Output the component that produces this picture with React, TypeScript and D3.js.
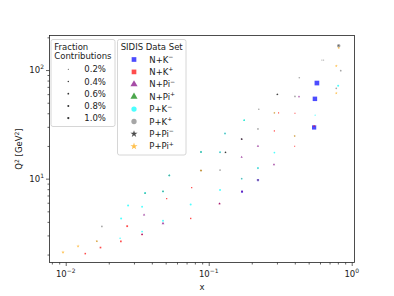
import React, { useEffect, useRef } from "react";
import * as d3 from "d3";

// SIDIS kinematic bins (x, Q^2) and fraction contribution (%) per data set
const nkmX = [0.553, 0.571, 0.546, 0.221, 0.171];
const nkmQ2 = [54.3, 75.9, 29.6, 9.7, 7.59];
const nkmFrac = [5, 5.5, 4.5, 1.2, 1.0];

const nkpX = [0.0137, 0.0175, 0.0243, 0.0269, 0.0342, 0.0508, 0.0748, 0.076, 0.288, 0.308, 0.401, 0.399, 0.546, 0.119];
const nkpQ2 = [2.04, 2.32, 2.64, 3.65, 3.06, 6.54, 4.3, 8.26, 27.5, 40.3, 40.0, 19.9, 30.5, 5.88];
const nkpFrac = [0.6, 0.7, 0.7, 0.8, 0.6, 0.4, 0.5, 0.4, 0.4, 0.3, 0.3, 0.3, 0.5, 0.4];

const npimX = [0.0353, 0.0479, 0.119, 0.17, 0.17, 0.221, 0.286, 0.428, 0.0342, 0.171];
const npimQ2 = [4.65, 3.87, 5.88, 15.8, 23.1, 19.9, 13.5, 56.8, 3.06, 7.59];
const npimFrac = [0.6, 0.8, 0.6, 0.5, 0.4, 0.6, 0.6, 0.5, 0.5, 0.6];

const npipX = [0.0359, 0.0479, 0.053, 0.0883, 0.177];
const npipQ2 = [7.36, 7.63, 10.7, 17.6, 34.5];
const npipFrac = [0.4, 0.4, 0.4, 0.4, 0.3];

const pkmX = [0.024, 0.0244, 0.0273, 0.0342, 0.0342, 0.0479, 0.0748, 0.12, 0.17, 0.288, 0.804, 0.0359, 0.0479, 0.053, 0.0883, 0.12, 0.13, 0.177, 0.221, 0.555];
const pkmQ2 = [2.83, 4.3, 5.67, 3.26, 5.51, 4.09, 5.79, 7.85, 10.0, 17.4, 71.6, 7.36, 7.63, 10.7, 17.6, 17.5, 26.0, 34.5, 12.5, 38.4];
const pkmFrac = [0.5, 0.8, 0.8, 0.6, 0.7, 0.7, 0.8, 0.8, 0.6, 0.6, 0.8, 0.8, 0.8, 0.8, 0.8, 0.8, 0.8, 0.6, 0.8, 0.3];

const pkpX = [0.0165, 0.0179, 0.131, 0.12, 0.17, 0.221, 0.224, 0.302, 0.401, 0.43, 0.619, 0.838, 0.78, 0.811, 0.0359, 0.0479, 0.053, 0.0883, 0.12, 0.13, 0.221, 0.288, 0.399, 0.17, 0.636];
const pkpQ2 = [2.65, 3.63, 17.5, 12.0, 23.1, 28.7, 43.6, 59.7, 57.2, 84.9, 123.7, 98.6, 67.8, 167.6, 7.36, 7.63, 10.7, 17.6, 17.5, 26.0, 12.5, 40.3, 24.7, 10.0, 123.7];
const pkpFrac = [0.5, 0.6, 0.6, 0.6, 0.6, 0.6, 0.5, 0.6, 0.6, 0.5, 0.3, 0.6, 0.6, 2.5, 0.4, 0.4, 0.4, 0.4, 0.4, 0.4, 0.4, 0.4, 0.4, 0.4, 0.3];

const ppimX = [0.131, 0.17, 0.302, 0.0883, 0.811];
const ppimQ2 = [17.5, 23.1, 59.7, 11.9, 167.6];
const ppimFrac = [0.4, 0.4, 0.4, 0.4, 0.2];

const ppipX = [0.00957, 0.0122, 0.0165, 0.0883, 0.288, 0.399, 0.78, 0.78, 0.811, 0.221];
const ppipQ2 = [2.1, 2.39, 2.65, 11.9, 40.3, 24.7, 108.8, 61.3, 160.0, 9.7];
const ppipFrac = [0.8, 0.8, 0.5, 0.6, 0.4, 0.4, 0.6, 0.6, 0.6, 0.4];

const setLabels = [
	["N+K", "\u2212"],
	["N+K", "+"],
	["N+Pi", "\u2212"],
	["N+Pi", "+"],
	["P+K", "\u2212"],
	["P+K", "+"],
	["P+Pi", "\u2212"],
	["P+Pi", "+"],
];
const setColors = ["#0000ff", "#ff0000", "#800080", "#008000", "#00ffff", "#808080", "#000000", "#ffa500"];
const setShapes = [d3.symbolSquare, d3.symbolSquare, d3.symbolTriangle, d3.symbolTriangle, d3.symbolCircle, d3.symbolCircle, d3.symbolStar, d3.symbolStar];

const fracLevels = [0.2, 0.4, 0.6, 0.8, 1.0];
const fracLabels = ["0.2%", "0.4%", "0.6%", "0.8%", "1.0%"];

const xMajor = [0.01, 0.1, 1];
const xMajorExp = ["\u22122", "\u22121", "0"];
const yMajor = [10, 100];
const yMajorExp = ["1", "2"];

const W = 394;
const H = 296;
const FONT = "DejaVu Sans, sans-serif";

const App: React.FC = () => {
	const svgRef = useRef<SVGSVGElement | null>(null);

	useEffect(() => {
		const svg = d3.select(svgRef.current);
		svg.selectAll("*").remove();

		const sets = [
			[nkmX, nkmQ2, nkmFrac],
			[nkpX, nkpQ2, nkpFrac],
			[npimX, npimQ2, npimFrac],
			[npipX, npipQ2, npipFrac],
			[pkmX, pkmQ2, pkmFrac],
			[pkpX, pkpQ2, pkpFrac],
			[ppimX, ppimQ2, ppimFrac],
			[ppipX, ppipQ2, ppipFrac],
		];

		const left = 49.5, right = 354.5, top = 35.5, bottom = 262.5;
		const x = d3.scaleLog().domain([0.0077, 1.046]).range([left, right]);
		const y = d3.scaleLog().domain([1.69, 208]).range([bottom, top]);
		// marker area (px^2) per percent contribution
		const area = (f: number) => 4 * f;

		svg.append("rect").attr("width", W).attr("height", H).attr("fill", "white");

		// points
		const pts = svg.append("g");
		sets.forEach((s, i) => {
			const [xs, qs, fs] = s;
			pts.selectAll(null)
				.data(xs.map((v, j) => ({ x: v, q: qs[j], f: fs[j] })))
				.enter()
				.append("path")
				.attr("transform", (d: any) => `translate(${x(d.x)},${y(d.q)})`)
				.attr("d", (d: any) => d3.symbol().type(setShapes[i]).size(area(d.f))())
				.attr("fill", setColors[i])
				.attr("fill-opacity", 0.7);
		});

		// frame
		svg.append("rect")
			.attr("x", left).attr("y", top)
			.attr("width", right - left).attr("height", bottom - top)
			.attr("fill", "none").attr("stroke", "#222").attr("stroke-width", 0.8);

		// x axis ticks
		const xMinor: number[] = [];
		for (let e = -3; e <= 0; e++)
			for (let k = 2; k <= 9; k++) {
				const v = k * Math.pow(10, e);
				if (v >= 0.0077 && v <= 1.046) xMinor.push(v);
			}
		const gx = svg.append("g").attr("transform", `translate(0,${bottom})`);
		gx.call(d3.axisBottom(x).tickValues(xMajor).tickSize(3.5).tickFormat(() => ""));
		gx.append("g").call(d3.axisBottom(x).tickValues(xMinor).tickSize(2).tickFormat(() => ""));
		gx.selectAll(".domain").remove();
		gx.selectAll("line").attr("stroke", "#222").attr("stroke-width", 0.7);

		xMajor.forEach((v, i) => {
			const t = svg.append("text")
				.attr("x", x(v)).attr("y", 277)
				.attr("text-anchor", "middle")
				.style("font-family", FONT).style("font-size", "8.5px").attr("fill", "#222");
			t.append("tspan").text("10");
			t.append("tspan").attr("dy", -4).style("font-size", "6px").text(xMajorExp[i]);
		});

		// y axis ticks
		const yMinor: number[] = [];
		for (let e = 0; e <= 2; e++)
			for (let k = 2; k <= 9; k++) {
				const v = k * Math.pow(10, e);
				if (v >= 1.69 && v <= 208) yMinor.push(v);
			}
		const gy = svg.append("g").attr("transform", `translate(${left},0)`);
		gy.call(d3.axisLeft(y).tickValues(yMajor).tickSize(3.5).tickFormat(() => ""));
		gy.append("g").call(d3.axisLeft(y).tickValues(yMinor).tickSize(2).tickFormat(() => ""));
		gy.selectAll(".domain").remove();
		gy.selectAll("line").attr("stroke", "#222").attr("stroke-width", 0.7);

		yMajor.forEach((v, i) => {
			const t = svg.append("text")
				.attr("x", 44).attr("y", y(v) + 3)
				.attr("text-anchor", "end")
				.style("font-family", FONT).style("font-size", "8.5px").attr("fill", "#222");
			t.append("tspan").text("10");
			t.append("tspan").attr("dy", -4).style("font-size", "6px").text(yMajorExp[i]);
		});

		// axis labels
		svg.append("text")
			.attr("x", (left + right) / 2).attr("y", 290)
			.attr("text-anchor", "middle")
			.style("font-family", FONT).style("font-size", "8.5px").attr("fill", "#222")
			.text("x");
		const yl = svg.append("text")
			.attr("transform", `translate(22,${(top + bottom) / 2}) rotate(-90)`)
			.attr("text-anchor", "middle")
			.style("font-family", FONT).style("font-size", "8.5px").attr("fill", "#222");
		yl.append("tspan").text("Q");
		yl.append("tspan").attr("dy", -3.5).style("font-size", "6px").text("2");
		yl.append("tspan").attr("dy", 3.5).text(" [GeV");
		yl.append("tspan").attr("dy", -3.5).style("font-size", "6px").text("2");
		yl.append("tspan").attr("dy", 3.5).text("]");

		// legend 1: fraction contributions
		const l1 = svg.append("g");
		l1.append("rect")
			.attr("x", 51).attr("y", 39.5).attr("width", 64).attr("height", 87)
			.attr("rx", 2).attr("fill", "white").attr("fill-opacity", 0.8)
			.attr("stroke", "#cccccc").attr("stroke-width", 0.8);
		["Fraction", "Contributions"].forEach((s, i) => {
			l1.append("text")
				.attr("x", 54.3).attr("y", 49.8 + i * 9.6)
				.style("font-family", FONT).style("font-size", "8.5px").attr("fill", "#222")
				.text(s);
		});
		fracLevels.forEach((f, i) => {
			const cy = 69.3 + i * 12.2;
			l1.append("path")
				.attr("transform", `translate(68.3,${cy})`)
				.attr("d", d3.symbol().type(d3.symbolCircle).size(area(f))())
				.attr("fill", "#333");
			l1.append("text")
				.attr("x", 84.3).attr("y", cy + 3)
				.style("font-family", FONT).style("font-size", "8.5px").attr("fill", "#222")
				.text(fracLabels[i]);
		});

		// legend 2: data sets
		const l2 = svg.append("g");
		l2.append("rect")
			.attr("x", 117.5).attr("y", 39.5).attr("width", 68.5).attr("height", 115.5)
			.attr("rx", 2).attr("fill", "white").attr("fill-opacity", 0.8)
			.attr("stroke", "#cccccc").attr("stroke-width", 0.8);
		l2.append("text")
			.attr("x", 151.7).attr("y", 49.8)
			.attr("text-anchor", "middle")
			.style("font-family", FONT).style("font-size", "8.5px").attr("fill", "#222")
			.text("SIDIS Data Set");
		setLabels.forEach((lab, i) => {
			const cy = 59.5 + i * 12.4;
			l2.append("path")
				.attr("transform", `translate(134,${cy})`)
				.attr("d", d3.symbol().type(setShapes[i]).size(setShapes[i] === d3.symbolStar ? 16 : 22)())
				.attr("fill", setColors[i])
				.attr("fill-opacity", 0.7);
			const t = l2.append("text")
				.attr("x", 149.3).attr("y", cy + 3)
				.style("font-family", FONT).style("font-size", "8.5px").attr("fill", "#222");
			t.append("tspan").text(lab[0]);
			t.append("tspan").attr("dy", -3.5).style("font-size", "6px").text(lab[1]);
		});
	}, []);

	return (
		<svg
			ref={svgRef}
			width={W}
			height={H}
			style={{ position: "absolute", left: 0, top: 0 }}
		></svg>
	);
};

export default App;
